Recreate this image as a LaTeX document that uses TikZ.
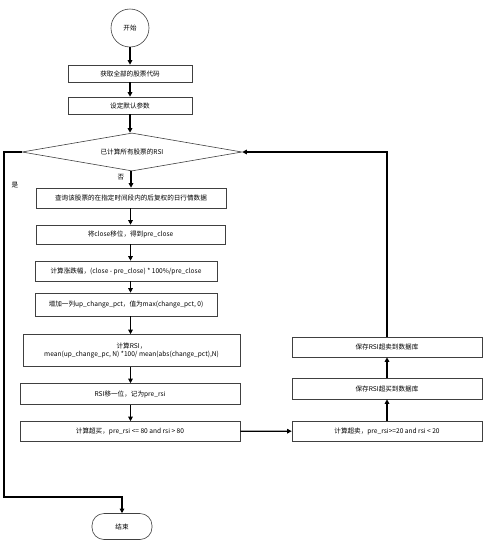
\documentclass[tikz,border=0pt]{standalone}
\usepackage{fontspec}
\setmainfont{Noto Sans CJK SC}
\usetikzlibrary{shapes.geometric,arrows.meta}
\begin{document}
\begin{tikzpicture}[x=1pt,y=-1pt,
  font=\fontsize{6.6}{8}\selectfont,
  box/.style={draw=black!75,line width=0.6pt,rectangle,inner sep=0pt,align=center},
  arr/.style={line width=1.1pt,-{Triangle[length=4.5pt,width=4.5pt]}},
  ln/.style={line width=1.1pt}]
\useasboundingbox (0,0) rectangle (491,552);
\node[draw=black!75,line width=0.6pt,circle,minimum size=38pt,inner sep=0pt] (start) at (130,28) {开始};
\node[box,minimum width=124pt,minimum height=17pt] (b1) at (130,73.5) {获取全部的股票代码};
\node[box,minimum width=124pt,minimum height=17pt] (b2) at (130,105.5) {设定默认参数};
\node[draw=black!75,line width=0.6pt,diamond,minimum width=220pt,minimum height=38pt,inner sep=0pt,aspect=5.8] (dec) at (132,152) {已计算所有股票的RSI};
\node[box,minimum width=190pt,minimum height=20pt] (b3) at (131,198) {查询该股票的在指定时间段内的后复权的日行情数据};
\node[box,minimum width=189pt,minimum height=19pt] (b4) at (130.5,234.5) {将close移位，得到pre\_close};
\node[box,minimum width=182pt,minimum height=20pt] (b5) at (126,271) {计算涨跌幅，(close - pre\_close) * 100\%/pre\_close};
\node[box,minimum width=182pt,minimum height=23pt] (b6) at (126,304.5) {增加一列up\_change\_pct，值为max(change\_pct, 0)};
\node[box,minimum width=217pt,minimum height=32pt] (b7) at (131.5,350.5) {计算RSI，\\mean(up\_change\_pc, N) *100/ mean(abs(change\_pct),N)};
\node[box,minimum width=220pt,minimum height=21pt] (b8) at (130,394) {RSI移一位，记为pre\_rsi};
\node[box,minimum width=220pt,minimum height=20pt] (b9) at (130,431.5) {计算超买，pre\_rsi <= 80 and rsi > 80};
\node[box,minimum width=190pt,minimum height=20pt] (b10) at (387,431) {计算超卖，pre\_rsi>=20 and rsi < 20};
\node[box,minimum width=190pt,minimum height=21pt] (b11) at (387,388.5) {保存RSI超买到数据库};
\node[box,minimum width=190pt,minimum height=20pt] (b12) at (387,347) {保存RSI超卖到数据库};
\node[draw=black!75,line width=0.6pt,rounded corners=12pt,minimum width=60pt,minimum height=26pt,inner sep=0pt] (end) at (122,526.5) {结束};
\node (no) at (121,177) {否};
\node (yes) at (15,185) {是};
\coordinate (lt) at (4,152);
\coordinate (lb) at (4,497);
\coordinate (rt) at (387,152);
\draw[arr] (start) -- (b1);
\draw[arr] (b1) -- (b2);
\draw[arr] (b2) -- (dec.north -| b2);
\draw[arr] (dec.south -| b3) -- (b3);
\draw[arr] (b3.south -| b4) -- (b4);
\draw[arr] (b4.south) -- (b4.south |- b5.north);
\draw[arr] (b5.south -| b4.south) -- (b4.south |- b6.north);
\draw[arr] (b6.south -| b4.south) -- (b4.south |- b7.north);
\draw[arr] (b7.south -| b4.south) -- (b4.south |- b8.north);
\draw[arr] (b8.south -| b4.south) -- (b4.south |- b9.north);
\draw[arr] (b9) -- (b10);
\draw[arr] (b10) -- (b11);
\draw[arr] (b11) -- (b12);
\draw[arr] (b12.north) -- (rt) -- (dec.east);
\draw[arr] (dec.west) -- (lt) -- (lb) -| (end.north);
\end{tikzpicture}
\end{document}
